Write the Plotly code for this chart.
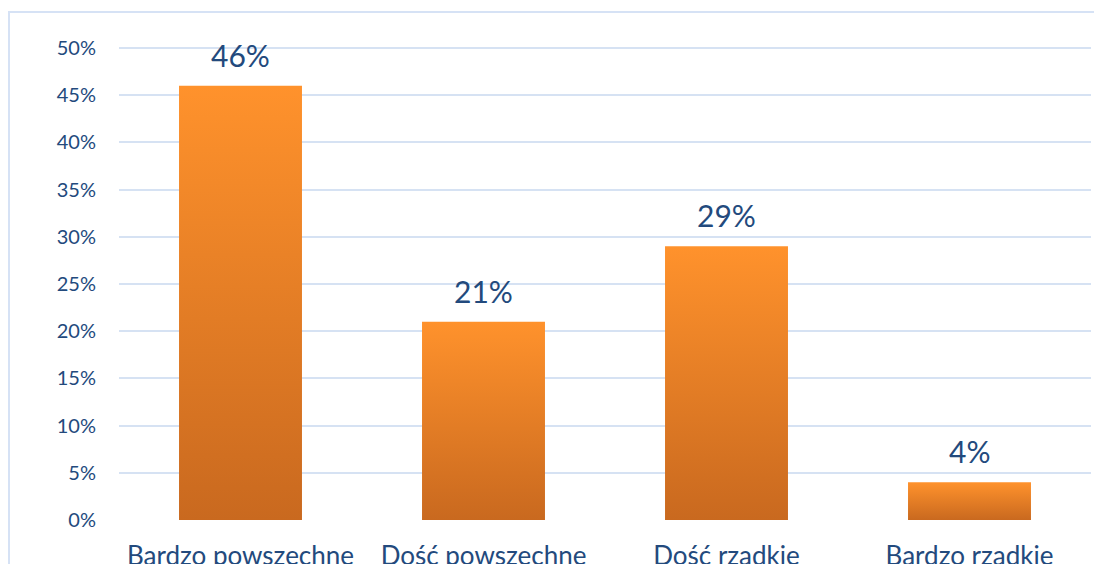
import plotly.graph_objects as go

categories = ["Bardzo powszechne", "Dość powszechne", "Dość rzadkie", "Bardzo rzadkie"]
values = [46, 21, 29, 4]
y_ticks = [0, 5, 10, 15, 20, 25, 30, 35, 40, 45, 50]
y_tick_labels = [f"{v}%" for v in y_ticks]

TEXT = "#234A7D"
GRID = "#D6E2F3"
FONT = "Lato"
half = 0.253

L, R, T, B = 111, 11, 38, 44
W, H = 1094, 556

fig = go.Figure()
for i, (cat, v) in enumerate(zip(categories, values)):
    fig.add_trace(go.Scatter(
        x=[i - half, i + half, i + half, i - half, i - half],
        y=[0, 0, v, v, 0],
        mode="lines",
        line=dict(width=0),
        fill="toself",
        fillgradient=dict(type="vertical",
                          colorscale=[[0, "#C9691F"], [1, "#FF922C"]]),
        hoverinfo="text",
        hovertext=f"{cat}: {v}%",
        showlegend=False,
    ))

for i, v in enumerate(values):
    fig.add_annotation(x=i, y=v, text=f"{v}%", showarrow=False,
                       yanchor="bottom", yshift=11,
                       font=dict(family=FONT, size=30, color=TEXT))

pw = W - L - R
ph = H - T - B
fig.update_layout(
    width=W, height=H,
    margin=dict(l=L, r=R, t=T, b=B, autoexpand=False),
    paper_bgcolor="white", plot_bgcolor="white",
    font=dict(family=FONT, color=TEXT),
    xaxis=dict(range=[-0.5, 3.5], tickvals=list(range(len(categories))),
               ticktext=categories, showgrid=False, zeroline=False,
               tickfont=dict(size=26, color=TEXT), ticklabelstandoff=18,
               automargin=False, fixedrange=True),
    yaxis=dict(range=[0, 50.2], tickvals=y_ticks, ticktext=y_tick_labels,
               showgrid=True, gridcolor=GRID, gridwidth=2, zeroline=False,
               tickfont=dict(size=20, color=TEXT), ticklabelstandoff=22,
               automargin=False, fixedrange=True),
    shapes=[dict(type="rect", xref="paper", yref="paper",
                 x0=(1 - L) / pw, x1=(W + 10 - L) / pw,
                 y0=-0.3, y1=1 + (T - 4) / ph,
                 line=dict(color="#D6E2F5", width=2), layer="below")],
)

fig.write_html("out.html")
